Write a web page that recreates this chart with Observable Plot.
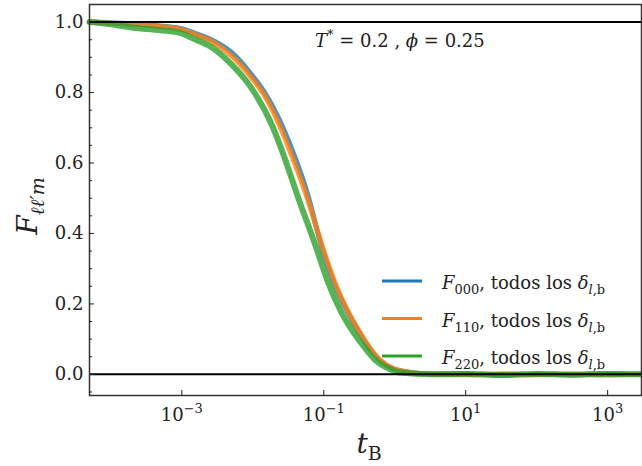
<!DOCTYPE html>
<html><head><meta charset="utf-8">
<script src="https://cdn.jsdelivr.net/npm/d3@7"></script>
<script src="https://cdn.jsdelivr.net/npm/@observablehq/plot@0.6"></script>
<style>
body{margin:0;background:#fff;}
#chart svg{display:block;}
</style></head><body><div id="chart"></div>
<script>
// Series identifiers and colours
const seriesNames = ["000", "110", "220"];
const seriesColors = ["#1f77b4", "#ff7f0e", "#2ca02c"];

// log10(t_B) sample positions and F values
const logt_000 = [-4.30, -4.0, -3.5, -3.0, -2.87, -2.59, -2.31, -2.03, -1.84, -1.58, -1.39, -1.23, -1.03, -0.87, -0.65, -0.49, -0.37, -0.21, -0.02, 0.17, 0.5, 1.0, 1.5, 2.0, 2.5, 3.0, 3.48];
const F_000    = [1.0, 0.998, 0.992, 0.981, 0.972, 0.951, 0.916, 0.854, 0.802, 0.703, 0.608, 0.513, 0.362, 0.267, 0.172, 0.116, 0.078, 0.040, 0.016, 0.007, 0.001, 0.002, -0.002, 0.001, -0.001, 0.002, 0.0];

const logt_110 = [-4.30, -4.0, -3.5, -3.0, -2.87, -2.59, -2.31, -2.03, -1.84, -1.615, -1.427, -1.254, -1.018, -0.855, -0.64, -0.48, -0.36, -0.20, -0.01, 0.18, 0.5, 1.0, 1.5, 2.0, 2.5, 3.0, 3.48];
const F_110    = [1.0, 0.997, 0.991, 0.979, 0.969, 0.947, 0.906, 0.845, 0.793, 0.703, 0.608, 0.513, 0.362, 0.267, 0.172, 0.116, 0.078, 0.040, 0.016, 0.007, 0.001, -0.001, 0.002, -0.001, 0.001, -0.002, 0.0];

const logt_220 = [-4.30, -4.0, -3.68, -3.3, -3.0, -2.87, -2.59, -2.31, -2.03, -1.72, -1.54, -1.38, -1.11, -0.95, -0.74, -0.57, -0.43, -0.27, -0.08, 0.08, 0.5, 1.0, 1.5, 2.0, 2.5, 3.0, 3.48];
const F_220    = [1.0, 0.994, 0.984, 0.977, 0.968, 0.956, 0.930, 0.882, 0.816, 0.703, 0.608, 0.513, 0.362, 0.267, 0.172, 0.116, 0.078, 0.040, 0.016, 0.005, 0.0, 0.001, -0.002, 0.001, -0.001, 0.001, 0.0];

// Axis ticks
const xTicks = [1e-3, 1e-1, 1e1, 1e3];
const yTicks = [0, 0.2, 0.4, 0.6, 0.8, 1.0];
const yMinorTicks = [-0.05, 0.05, 0.1, 0.15, 0.25, 0.3, 0.35, 0.45, 0.5, 0.55, 0.65, 0.7, 0.75, 0.85, 0.9, 0.95];
const refLines = [0, 1];

const allLogt = [logt_000, logt_110, logt_220];
const allF = [F_000, F_110, F_220];
const data = [];
seriesNames.forEach((s, i) => {
  allLogt[i].forEach((lt, j) => data.push({series: s, t: Math.pow(10, lt), F: allF[i][j]}));
});

const FONT = "DejaVu Serif";
const widths = {"000": 5, "110": 5, "220": 6};
const lineMarks = seriesNames.map((s, i) =>
  Plot.line(data.filter(d => d.series === s), {
    x: "t", y: "F", stroke: seriesColors[i], strokeWidth: widths[s],
    strokeOpacity: 0.8, curve: "monotone-x"
  })
);

const plot = Plot.plot({
  width: 642, height: 466,
  marginLeft: 89, marginRight: 1, marginTop: 4, marginBottom: 71,
  x: {type: "log", domain: [5e-5, 3000]},
  y: {domain: [-0.06, 1.05]},
  style: {fontFamily: FONT, fontSize: "18px", color: "#222", background: "white", overflow: "visible"},
  marks: [
    ...lineMarks,
    Plot.ruleY(refLines, {stroke: "black", strokeWidth: 2}),
    Plot.frame({stroke: "#333", strokeWidth: 1.5}),
    Plot.axisX(xTicks, {tickSize: -5, tickPadding: 18, tickFormat: d => String(Math.round(Math.log10(d))), label: null, stroke: "#222"}),
    Plot.axisY(yTicks, {tickSize: -5, tickPadding: 11, tickFormat: d3.format(".1f"), label: null, stroke: "#222"}),
    Plot.axisY(yMinorTicks, {tickSize: -3, text: null, label: null, stroke: "#222"})
  ]
});
document.getElementById("chart").appendChild(plot);

const svg = d3.select(plot);

// Superscript exponents on x tick labels
svg.selectAll('g[aria-label="x-axis tick label"] text').each(function() {
  const e = this.textContent.replace("-", "\u2212");
  const t = d3.select(this);
  t.text(null);
  t.append("tspan").text("10");
  t.append("tspan").attr("dy", "-8").attr("font-size", "13px").text(e);
});

function addRich(parent, parts, attrs) {
  const t = parent.append("text").attr("text-anchor", "start").attr("font-family", FONT);
  for (const k in attrs) t.attr(k, attrs[k]);
  let shift = 0;
  parts.forEach(p => {
    const ts = t.append("tspan").text(p.text);
    const target = p.sub ? p.sub : (p.sup ? -p.sup : 0);
    if (target !== shift) { ts.attr("dy", target - shift); shift = target; }
    if (p.italic) ts.attr("font-style", "italic");
    if (p.size) ts.attr("font-size", p.size);
  });
  return t;
}

const g = svg.append("g").attr("font-family", FONT).attr("fill", "#222").attr("text-anchor", "start");

// Annotation
addRich(g, [
  {text: "T", italic: true},
  {text: "*", sup: 8, size: "13px"},
  {text: " = 0.2 , "},
  {text: "\u03D5", italic: true},
  {text: " = 0.25"}
], {x: 315, y: 47, "font-size": "18px"});

// Axis labels
addRich(g, [
  {text: "t", italic: true},
  {text: "B", sub: 7, size: "19px"}
], {x: 369, y: 453, "font-size": "28px", "text-anchor": "middle"});

addRich(g, [
  {text: "F", italic: true},
  {text: "\u2113\u2113\u2032m", sub: 7, italic: true, size: "19px"}
], {transform: "translate(37,206) rotate(-90)", "font-size": "28px", "text-anchor": "middle"});

// Legend
seriesNames.forEach((s, i) => {
  const y = 281 + 37.5 * i;
  g.append("line").attr("x1", 382).attr("x2", 422).attr("y1", y).attr("y2", y)
    .attr("stroke", seriesColors[i]).attr("stroke-width", 3);
  addRich(g, [
    {text: "F", italic: true},
    {text: s, sub: 5, size: "13px"},
    {text: ", todos los "},
    {text: "\u03B4", italic: true},
    {text: "l", sub: 5, italic: true, size: "13px"},
    {text: ",b", sub: 5, size: "13px"}
  ], {x: 442, y: y + 8, "font-size": "18px"});
});
</script></body></html>
